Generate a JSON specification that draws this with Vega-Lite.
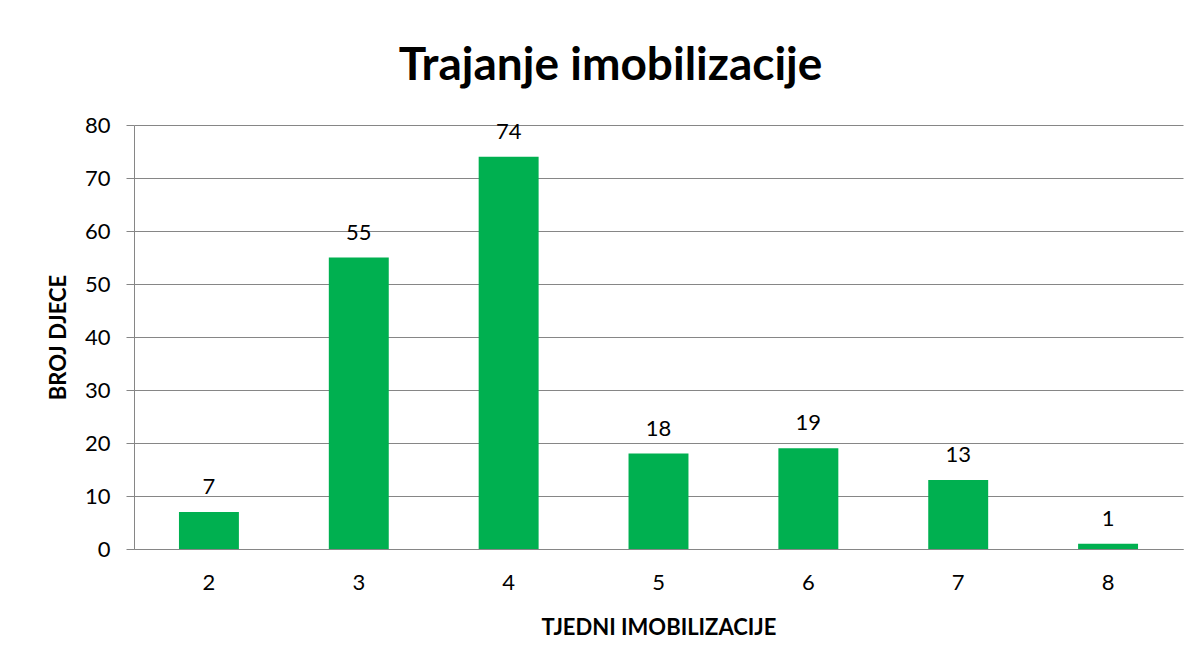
{
  "$schema": "https://vega.github.io/schema/vega-lite/v6.json",
  "autosize": {"type": "none"},
  "width": 1049,
  "height": 424,
  "padding": {"left": 134, "top": 125, "right": 18, "bottom": 115},
  "background": "white",
  "title": {
    "text": "Trajanje imobilizacije",
    "font": "Lato",
    "fontSize": 46,
    "fontWeight": "bold",
    "color": "#000000",
    "anchor": "middle",
    "frame": "group",
    "dx": -48,
    "offset": 24
  },
  "data": {
    "values": [
      {"tjedni": "2", "broj": 7},
      {"tjedni": "3", "broj": 55},
      {"tjedni": "4", "broj": 74},
      {"tjedni": "5", "broj": 18},
      {"tjedni": "6", "broj": 19},
      {"tjedni": "7", "broj": 13},
      {"tjedni": "8", "broj": 1}
    ]
  },
  "encoding": {
    "x": {
      "field": "tjedni",
      "type": "ordinal",
      "sort": null,
      "scale": {"paddingInner": 0.6, "paddingOuter": 0.3},
      "axis": {
        "title": "TJEDNI IMOBILIZACIJE",
        "labelAngle": 0,
        "ticks": false,
        "labelPadding": 23,
        "titlePadding": 24
      }
    },
    "y": {
      "field": "broj",
      "type": "quantitative",
      "scale": {"domain": [0, 80], "nice": false},
      "axis": {
        "title": "BROJ DJECE",
        "values": [0, 10, 20, 30, 40, 50, 60, 70, 80],
        "tickSize": 8,
        "labelPadding": 16,
        "titlePadding": 14,
        "grid": true
      }
    }
  },
  "layer": [
    {"mark": {"type": "bar", "color": "#00B050"}},
    {
      "mark": {"type": "text", "dy": -25, "font": "Lato", "fontSize": 22, "color": "#000000"},
      "encoding": {"text": {"field": "broj", "type": "quantitative"}}
    }
  ],
  "config": {
    "view": {"stroke": null},
    "axis": {
      "domainColor": "#868686",
      "tickColor": "#868686",
      "gridColor": "#868686",
      "gridOpacity": 1,
      "labelFont": "Lato",
      "labelFontSize": 22,
      "labelColor": "#000000",
      "titleFont": "Lato",
      "titleFontSize": 22,
      "titleFontWeight": "bold",
      "titleColor": "#000000"
    }
  }
}
